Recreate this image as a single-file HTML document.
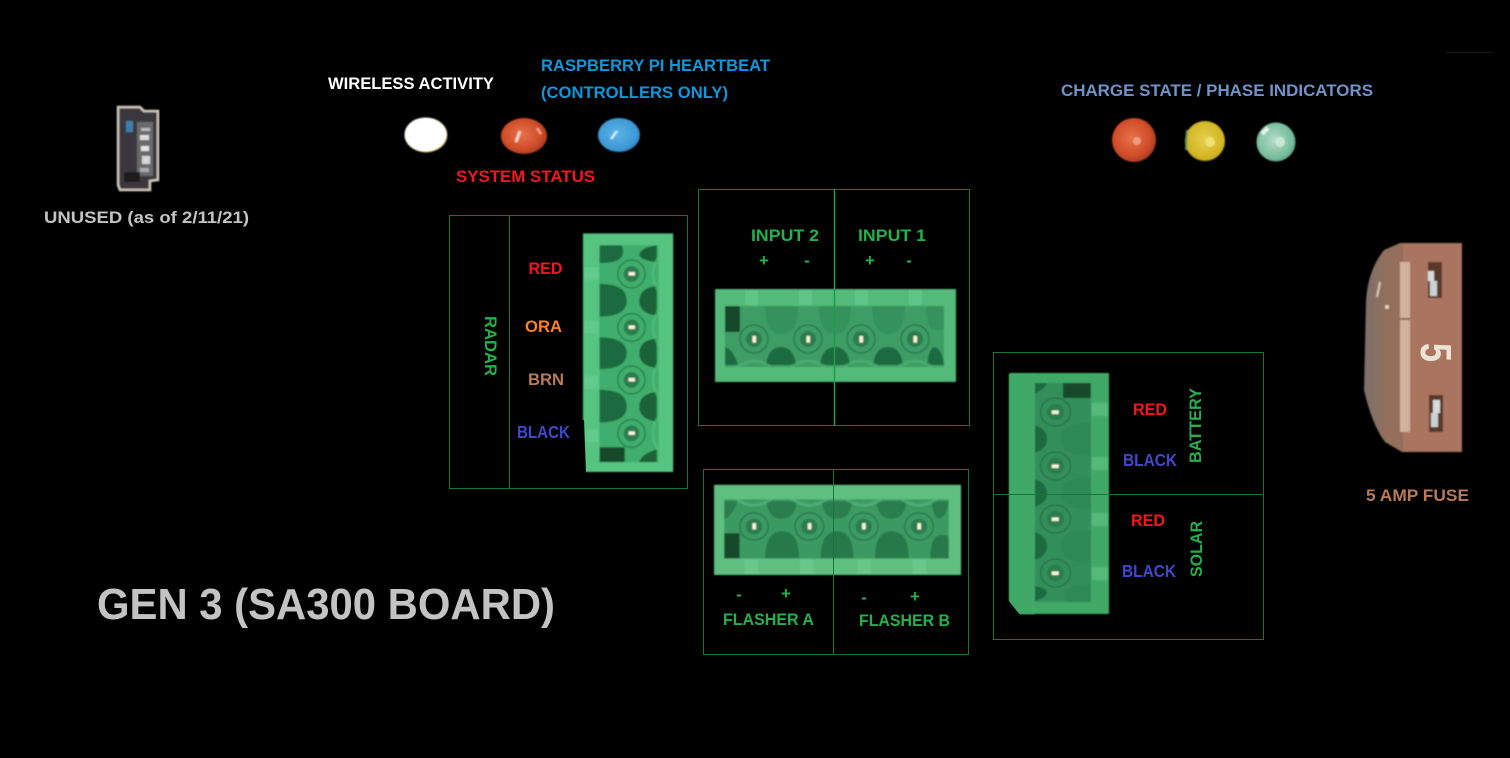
<!DOCTYPE html>
<html><head><meta charset="utf-8"><title>GEN 3 (SA300 BOARD)</title>
<style>
html,body{margin:0;padding:0;background:#000;width:1510px;height:758px;overflow:hidden}
svg{display:block}
text{font-family:"Liberation Sans",sans-serif;font-weight:bold;font-size:16.5px}
.g{fill:#22b14c}.r{fill:#f5141f}.b{fill:#3f48cc}.f{fill:none;stroke:#17743a;stroke-width:1}
</style></head><body>
<svg width="1510" height="758" viewBox="0 0 1510 758" xmlns="http://www.w3.org/2000/svg">
<defs>
<filter id="s" x="-5%" y="-5%" width="110%" height="110%"><feGaussianBlur stdDeviation="0.8"/></filter>
<radialGradient id="rd" cx="45%" cy="45%" r="60%"><stop offset="0" stop-color="#e8714a"/><stop offset=".7" stop-color="#cf4c28"/><stop offset="1" stop-color="#9c3a28"/></radialGradient>
<radialGradient id="yl" cx="50%" cy="45%" r="60%"><stop offset="0" stop-color="#e6cf50"/><stop offset=".8" stop-color="#d2b420"/><stop offset="1" stop-color="#a89518"/></radialGradient>
<radialGradient id="tl" cx="45%" cy="45%" r="60%"><stop offset="0" stop-color="#b5dcc6"/><stop offset=".8" stop-color="#74bb9a"/><stop offset="1" stop-color="#4f9a80"/></radialGradient>
<radialGradient id="bl" cx="45%" cy="45%" r="60%"><stop offset="0" stop-color="#5cb4e6"/><stop offset=".8" stop-color="#3d97d4"/><stop offset="1" stop-color="#2a75b0"/></radialGradient>
<linearGradient id="fz" x1="0" x2="1" y1="0" y2="0"><stop offset="0" stop-color="#7c7068"/><stop offset=".25" stop-color="#94705c"/><stop offset="1" stop-color="#8f6552"/></linearGradient>
<g id="c" filter="url(#s)">
<rect x="0" y="0" width="241" height="93" style="fill:var(--b)"/>
<g fill="#7ad9a0" opacity=".35"><rect x="30" y="1" width="13" height="15"/><rect x="84" y="1" width="13" height="15"/><rect x="140" y="1" width="13" height="15"/><rect x="194" y="1" width="13" height="15"/></g>
<rect x="10" y="17" width="219" height="61" style="fill:var(--m)"/>
<rect x="10" y="17" width="15" height="26" fill="#134a2c"/>
<g style="fill:var(--u)">
<path d="M50,17C50,40 58,45 66,45C75,45 83,40 83,17Z"/>
<path d="M104,17C104,40 112,45 120,45C128,45 136,40 136,17Z"/>
<path d="M157,17C157,40 165,45 173,45C182,45 190,40 190,17Z"/>
<path d="M211,17C211,40 218,44 229,40V17Z"/>
</g>
<g style="fill:var(--d)">
<path d="M51,76Q53,58 66,58Q79,58 81,76Z"/><path d="M105,76Q107,58 120,58Q133,58 135,76Z"/><path d="M158,76Q160,58 173,58Q186,58 188,76Z"/><path d="M212,76Q214,58 220,58Q227,60 229,76Z"/><path d="M10,58Q18,60 23,76H10Z"/>
</g>
<g style="stroke:var(--b)" stroke-width="3" fill="none" opacity=".55">
<path d="M22,78Q39,66 56,78"/><path d="M76,78Q93,66 110,78"/><path d="M129,78Q146,66 163,78"/><path d="M183,78Q200,66 217,78"/>
</g>
<g style="fill:var(--m)" stroke="#1f6a40" stroke-width="1"><circle cx="39" cy="50" r="14"/><circle cx="93" cy="50" r="14"/><circle cx="146" cy="50" r="14"/><circle cx="200" cy="50" r="14"/></g>
<g fill="#2a7d4e"><circle cx="39" cy="50" r="8"/><circle cx="93" cy="50" r="8"/><circle cx="146" cy="50" r="8"/><circle cx="200" cy="50" r="8"/></g>
<g fill="#fff4dc"><rect x="37.5" y="47" width="3.5" height="6.5"/><rect x="91.5" y="47" width="3.5" height="6.5"/><rect x="144.5" y="47" width="3.5" height="6.5"/><rect x="198.5" y="47" width="3.5" height="6.5"/></g>
</g>
</defs>

<rect width="1510" height="758" fill="#000"/>
<rect x="1445" y="52" width="48" height="1" fill="#161616"/>

<!-- USB -->
<g filter="url(#s)">
<path d="M118,107H140L144,111H158V180L150,181V190H120L118,185Z" fill="#3a383c" stroke="#cfc9ba" stroke-width="2.5"/>
<rect x="126" y="121" width="7" height="11" fill="#3a7fa8"/>
<rect x="137" y="122" width="16" height="54" fill="#6a6a6c"/>
<rect x="141" y="128" width="9" height="3" fill="#bbb"/><rect x="140" y="135" width="9" height="5" fill="#ddd"/><rect x="141" y="146" width="8" height="5" fill="#e6e6e6"/><rect x="142" y="156" width="8" height="8" fill="#d8d8d8"/><rect x="140" y="168" width="9" height="4" fill="#aaa"/>
<rect x="124" y="172" width="16" height="10" fill="#1c1c1c"/>
</g>

<!-- LEDs -->
<g filter="url(#s)">
<ellipse cx="426" cy="135" rx="21.5" ry="17.5" fill="#cdb24a"/><ellipse cx="425.5" cy="134.5" rx="21" ry="17" fill="#fff"/>
<ellipse cx="524" cy="136" rx="23" ry="18" fill="url(#rd)"/><path d="M516,142L520,131" stroke="#f8d8c8" stroke-width="3"/><path d="M537,128L541,134" stroke="#f0a080" stroke-width="2.5"/>
<ellipse cx="619" cy="135" rx="21" ry="17" fill="url(#bl)"/><path d="M611,139L617,131" stroke="#cfeafa" stroke-width="2.5"/>
<circle cx="1134" cy="140" r="22" fill="url(#rd)"/><circle cx="1137" cy="141" r="4" fill="#ee9c7e"/>
<circle cx="1205" cy="141" r="20" fill="url(#yl)"/><circle cx="1210" cy="142" r="5" fill="#f0e070"/><path d="M1187,130L1186,150" stroke="#5e9a50" stroke-width="2"/>
<circle cx="1276" cy="142" r="19.5" fill="url(#tl)"/><path d="M1262,134L1268,128" stroke="#e8f6ee" stroke-width="4"/><circle cx="1280" cy="142" r="5" fill="#c8e8d6"/>
</g>

<!-- Boxes behind -->
<rect class="f" x="449.5" y="215.5" width="238" height="273"/>
<line class="f" x1="509.5" y1="215" x2="509.5" y2="489"/>
<rect class="f" x="698.5" y="189.5" width="271" height="236"/>
<rect class="f" x="703.5" y="469.5" width="265" height="185"/>
<rect class="f" x="993.5" y="352.5" width="270" height="287"/>

<!-- Connectors -->
<use href="#c" transform="translate(583,472) rotate(-90) scale(.99,.97)" style="--b:#54c480;--m:#3fae6c;--u:#1f6a40;--d:#1c6239"/>
<polygon points="578,420 578,474 586,474 584,420" fill="#000"/>
<use href="#c" transform="translate(715,289)" style="--b:#52ba79;--m:#3c9d65;--u:#35925c;--d:#1f6a40"/>
<use href="#c" transform="translate(714,575) scale(1.025,-.97)" style="--b:#5fbf81;--m:#3a9a62;--u:#277a4a;--d:#2a7d4e"/>
<use href="#c" transform="translate(1109,373) rotate(90) scale(1,1.07)" style="--b:#41a968;--m:#338f5a;--u:#2f8a55;--d:#1f6a40"/>
<rect x="1009" y="374" width="26" height="240" fill="#41a968" filter="url(#s)"/>
<polygon points="1008,600 1008,615 1020,615" fill="#000"/>

<!-- Dividers on top -->
<line x1="834.5" y1="189" x2="834.5" y2="426" stroke="#1f9c48" stroke-width="1.5"/>
<line x1="833.5" y1="469" x2="833.5" y2="655" stroke="#17743a" stroke-width="1"/>
<line x1="993" y1="494.5" x2="1264" y2="494.5" stroke="#17743a" stroke-width="1"/>

<!-- Fuse -->
<g filter="url(#s)">
<path d="M1400,243L1384,250Q1368,270 1366,300L1364,390Q1372,425 1385,442L1402,452H1462V243Z" fill="url(#fz)"/>
<rect x="1403" y="243" width="59" height="209" fill="#a9755f"/>
<rect x="1400" y="262" width="10" height="170" fill="#d2b29c"/>
<rect x="1400" y="318" width="10" height="2" fill="#8f6552"/>
<rect x="1428" y="262" width="14" height="36" fill="#5a382a"/>
<rect x="1428" y="271" width="6" height="10" fill="#d6dcdc"/><rect x="1430" y="281" width="7" height="15" fill="#c8d2d4"/>
<rect x="1429" y="395" width="14" height="37" fill="#5a382a"/>
<rect x="1433" y="400" width="7" height="13" fill="#d6dcdc"/><rect x="1431" y="413" width="7" height="14" fill="#c8d2d4"/>
<path d="M1377,297L1380,282" stroke="#dcc8b8" stroke-width="2"/><circle cx="1387" cy="307" r="2" fill="#e6d6c8"/>
</g>
<text transform="translate(1421,343) rotate(90)" textLength="19" lengthAdjust="spacingAndGlyphs" style="font-size:44px" fill="#efe3d8">5</text>

<!-- Labels -->
<text x="328" y="89" textLength="166" lengthAdjust="spacingAndGlyphs" fill="#fff">WIRELESS ACTIVITY</text>
<text x="541" y="71" textLength="229" lengthAdjust="spacingAndGlyphs" fill="#0d97dd">RASPBERRY PI HEARTBEAT</text>
<text x="541" y="98" textLength="187" lengthAdjust="spacingAndGlyphs" fill="#0d97dd">(CONTROLLERS ONLY)</text>
<text class="r" x="456" y="182" textLength="139" lengthAdjust="spacingAndGlyphs">SYSTEM STATUS</text>
<text x="1061" y="96" textLength="312" lengthAdjust="spacingAndGlyphs" fill="#7092c8">CHARGE STATE / PHASE INDICATORS</text>
<text x="44" y="223" textLength="205" lengthAdjust="spacingAndGlyphs" fill="#c3c3c3">UNUSED (as of 2/11/21)</text>
<text x="97" y="619" textLength="458" lengthAdjust="spacingAndGlyphs" fill="#c3c3c3" style="font-size:44px">GEN 3 (SA300 BOARD)</text>
<text x="1366" y="501" textLength="103" lengthAdjust="spacingAndGlyphs" fill="#b97a57">5 AMP FUSE</text>

<text class="r" x="528.5" y="274" textLength="34" lengthAdjust="spacingAndGlyphs">RED</text>
<text x="525" y="332" textLength="37" lengthAdjust="spacingAndGlyphs" fill="#ff7f27">ORA</text>
<text x="528" y="385" textLength="36" lengthAdjust="spacingAndGlyphs" fill="#b97a57">BRN</text>
<text class="b" x="517" y="438" textLength="53" lengthAdjust="spacingAndGlyphs" style="font-size:17.5px">BLACK</text>
<text class="g" transform="translate(485,316) rotate(90)" textLength="60" lengthAdjust="spacingAndGlyphs">RADAR</text>

<text class="g" x="751" y="241" textLength="68" lengthAdjust="spacingAndGlyphs">INPUT 2</text>
<text class="g" x="858" y="241" textLength="68" lengthAdjust="spacingAndGlyphs">INPUT 1</text>
<text class="g" x="764" y="266" text-anchor="middle">+</text>
<text class="g" x="807" y="266" text-anchor="middle">-</text>
<text class="g" x="870" y="266" text-anchor="middle">+</text>
<text class="g" x="909" y="266" text-anchor="middle">-</text>

<text class="g" x="723" y="625" textLength="91" lengthAdjust="spacingAndGlyphs">FLASHER A</text>
<text class="g" x="859" y="626" textLength="91" lengthAdjust="spacingAndGlyphs">FLASHER B</text>
<text class="g" x="739" y="600" text-anchor="middle">-</text>
<text class="g" x="786" y="599" text-anchor="middle">+</text>
<text class="g" x="864" y="603" text-anchor="middle">-</text>
<text class="g" x="915" y="602" text-anchor="middle">+</text>

<text class="r" x="1133" y="415" textLength="34" lengthAdjust="spacingAndGlyphs">RED</text>
<text class="b" x="1123" y="466" textLength="54" lengthAdjust="spacingAndGlyphs" style="font-size:17.5px">BLACK</text>
<text class="r" x="1131" y="526" textLength="34" lengthAdjust="spacingAndGlyphs">RED</text>
<text class="b" x="1122" y="577" textLength="54" lengthAdjust="spacingAndGlyphs" style="font-size:17.5px">BLACK</text>
<text class="g" transform="translate(1201,463) rotate(-90)" textLength="75" lengthAdjust="spacingAndGlyphs">BATTERY</text>
<text class="g" transform="translate(1202,577) rotate(-90)" textLength="56" lengthAdjust="spacingAndGlyphs">SOLAR</text>
</svg>
</body></html>
